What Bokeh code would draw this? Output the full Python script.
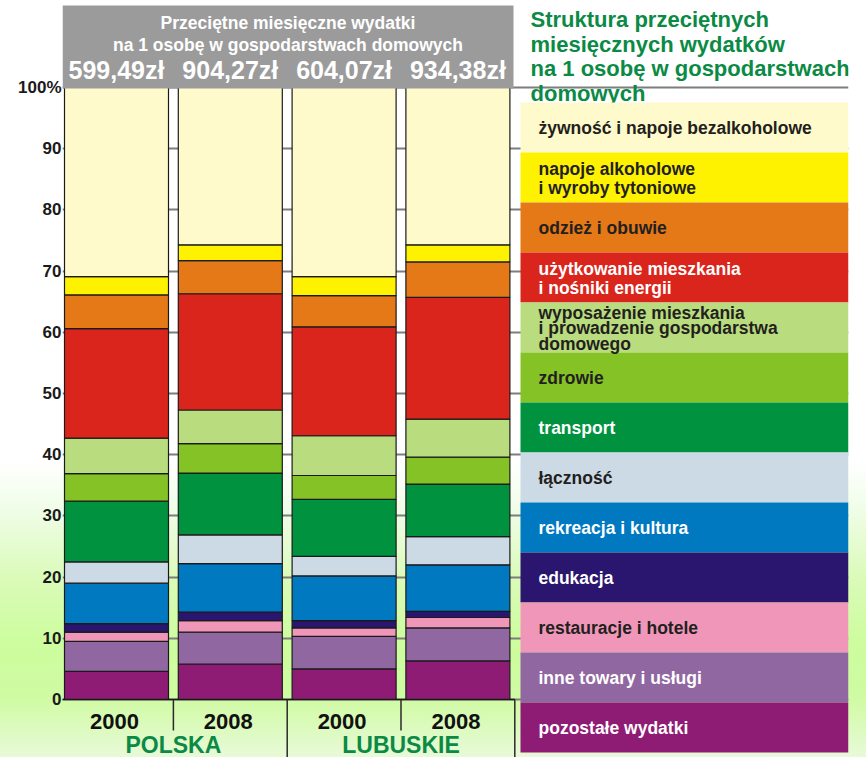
from bokeh.plotting import figure
from bokeh.models import ColumnDataSource, Range1d, FixedTicker
from bokeh.core.properties import value
from bokeh.embed import file_html
from bokeh.resources import INLINE

# ---------------- data ----------------
groups = ["POLSKA", "LUBUSKIE"]
years = ["2000", "2008", "2000", "2008"]
totals = ["599,49zł", "904,27zł", "604,07zł", "934,38zł"]

# categories listed from the bottom of each bar to the top
categories = [
    "pozostałe wydatki",
    "inne towary i usługi",
    "restauracje i hotele",
    "edukacja",
    "rekreacja i kultura",
    "łączność",
    "transport",
    "zdrowie",
    "wyposażenie mieszkania\ni prowadzenie gospodarstwa\ndomowego",
    "użytkowanie mieszkania\ni nośniki energii",
    "odzież i obuwie",
    "napoje alkoholowe\ni wyroby tytoniowe",
    "żywność i napoje bezalkoholowe",
]
colors = ["#8E1C74", "#9167A2", "#F097B9", "#2A166E", "#0079C1", "#CCDAE6",
          "#00923F", "#85C226", "#B9DC7E", "#DA251D", "#E57817", "#FFF200", "#FFFACB"]
label_colors = ["white", "white", "#231F20", "white", "white", "#231F20",
                "white", "#231F20", "#231F20", "white", "#231F20", "#231F20", "#231F20"]

polska_2000 = [4.6, 4.9, 1.5, 1.4, 6.6, 3.5, 9.9, 4.5, 5.8, 17.9, 5.5, 3.0, 30.9]
polska_2008 = [5.8, 5.2, 1.9, 1.4, 7.9, 4.7, 10.1, 4.8, 5.5, 19.0, 5.4, 2.6, 25.7]
lubuskie_2000 = [5.0, 5.3, 1.4, 1.2, 7.3, 3.2, 9.3, 3.9, 6.5, 17.8, 5.1, 3.1, 30.9]
lubuskie_2008 = [6.3, 5.4, 1.7, 1.0, 7.6, 4.6, 8.6, 4.4, 6.2, 19.9, 5.8, 2.8, 25.7]

y_ticks = [0, 10, 20, 30, 40, 50, 60, 70, 80, 90, 100]

title_lines = ["Struktura przeciętnych", "miesięcznych wydatków",
               "na 1 osobę w gospodarstwach", "domowych"]
header_lines = ["Przeciętne miesięczne wydatki",
                "na 1 osobę w gospodarstwach domowych"]

# ---------------- layout helpers ----------------
W, H = 866, 757
LEFT, RIGHT = 62, 18
PX = 6.12            # pixels per percentage point
Y0 = 699             # canvas y of the 0 line
FONT = value("Liberation Sans")
GREEN = "#0B8A45"


def ry(py):
    """canvas-pixel y -> data y"""
    return (Y0 - py) / PX


def rx(px):
    """canvas-pixel x -> data x"""
    return px - LEFT


p = figure(width=W, height=H, output_backend="svg", toolbar_location=None,
           x_range=Range1d(0, W - LEFT - RIGHT), y_range=Range1d(ry(H), ry(0)),
           x_axis_type=None, min_border_left=LEFT, min_border_right=RIGHT,
           min_border_top=0, min_border_bottom=0, outline_line_color=None)
p.background_fill_color = None
p.border_fill_color = None
p.styles = {"background": "linear-gradient(to bottom, #ffffff 0%, #ffffff 61%, "
                          "#eefde4 68%, #d9fbb6 77%, #cdfd9e 85%, #cffba2 92%, #e8fad8 100%)"}

# grid / y axis
p.xgrid.visible = False
p.ygrid.ticker = FixedTicker(ticks=y_ticks)
p.ygrid.grid_line_color = "#7d7d7d"
p.ygrid.grid_line_width = 2
ax = p.yaxis[0]
ax.ticker = FixedTicker(ticks=y_ticks)
ax.major_label_overrides = {100: "100%"}
ax.axis_line_color = None
ax.major_tick_line_color = None
ax.minor_tick_line_color = None
ax.major_tick_out = 0
ax.major_tick_in = 0
ax.minor_tick_out = 0
ax.minor_tick_in = 0
ax.major_label_standoff = 1
ax.major_label_text_font = "Liberation Sans"
ax.major_label_text_font_style = "bold"
ax.major_label_text_font_size = "17px"
ax.major_label_text_color = "#1a1a1a"

# bars
step = 113.8
xs = [rx(116) + i * step for i in range(4)]
keys = [f"c{i}" for i in range(len(categories))]
data = {"x": xs}
for i, k in enumerate(keys):
    data[k] = [polska_2000[i], polska_2008[i], lubuskie_2000[i], lubuskie_2008[i]]
src = ColumnDataSource(data)
p.vbar_stack(keys, x="x", width=104, color=colors, line_color="#1a1a1a",
             line_width=1.2, source=src)

# category table under the bars
bounds = [xs[0] - step / 2] + [(xs[i] + xs[i + 1]) / 2 for i in range(3)] + [xs[3] + step / 2]
p.segment(x0=[bounds[0]], y0=[0], x1=[bounds[4]], y1=[0], line_color="#1a1a1a", line_width=1.6)
p.segment(x0=bounds, y0=[0] * 5, x1=bounds,
          y1=[ry(H + 5), ry(730), ry(H + 5), ry(730), ry(H + 5)],
          line_color="#2a2a2a", line_width=1.5)
p.text(x=[x - 2 for x in xs], y=[ry(721)] * 4, text=years, text_font=FONT,
       text_font_style="bold", text_font_size="22px", text_align="center",
       text_baseline="middle", text_color="#111111")
gx = [(xs[0] + xs[1]) / 2, (xs[2] + xs[3]) / 2]
p.text(x=gx, y=[ry(744)] * 2, text=groups, text_font=FONT, text_font_style="bold",
       text_font_size="23px", text_align="center", text_baseline="middle", text_color=GREEN)

# header box with totals
p.quad(left=[rx(62)], right=[rx(513)], bottom=[ry(88)], top=[ry(5)],
       fill_color="#9b9b9b", line_color=None)
hx = (rx(62) + rx(513)) / 2
p.text(x=[hx, hx], y=[ry(22), ry(44)], text=header_lines, text_font=FONT,
       text_font_style="bold", text_font_size="17.5px", text_align="center",
       text_baseline="middle", text_color="#ffffff")
p.text(x=xs, y=[ry(69)] * 4, text=totals, text_font=FONT, text_font_style="bold",
       text_font_size="25px", text_align="center", text_baseline="middle",
       text_color="#ffffff")

# legend title
p.text(x=[rx(530)] * 4, y=[ry(19 + 24.7 * i) for i in range(4)], text=title_lines,
       text_font=FONT, text_font_style="bold", text_font_size="22px",
       text_align="left", text_baseline="middle", text_color=GREEN)

# legend boxes (top to bottom)
order = list(range(len(categories)))[::-1]
box_top = 102
box_h = 50
lq = dict(left=[], right=[], top=[], bottom=[], color=[])
lt = dict(x=[], y=[], text=[], color=[])
for j, ci in enumerate(order):
    top = box_top + j * box_h
    lq["left"].append(rx(520))
    lq["right"].append(rx(848))
    lq["top"].append(ry(top))
    lq["bottom"].append(ry(top + box_h))
    lq["color"].append(colors[ci])
    lines = categories[ci].split("\n")
    n = len(lines)
    sp = 19 if n == 2 else 15.5
    mid = top + box_h / 2 + 0.5
    for k, ln in enumerate(lines):
        lt["x"].append(rx(538))
        lt["y"].append(ry(mid + (k - (n - 1) / 2) * sp))
        lt["text"].append(ln)
        lt["color"].append(label_colors[ci])
p.quad(left="left", right="right", top="top", bottom="bottom", fill_color="color",
       line_color=None, source=ColumnDataSource(lq))
p.text(x="x", y="y", text="text", text_color="color", source=ColumnDataSource(lt),
       text_font=FONT, text_font_style="bold", text_font_size="17.5px",
       text_align="left", text_baseline="middle")

open("out.html", "w").write(file_html(p, INLINE))
